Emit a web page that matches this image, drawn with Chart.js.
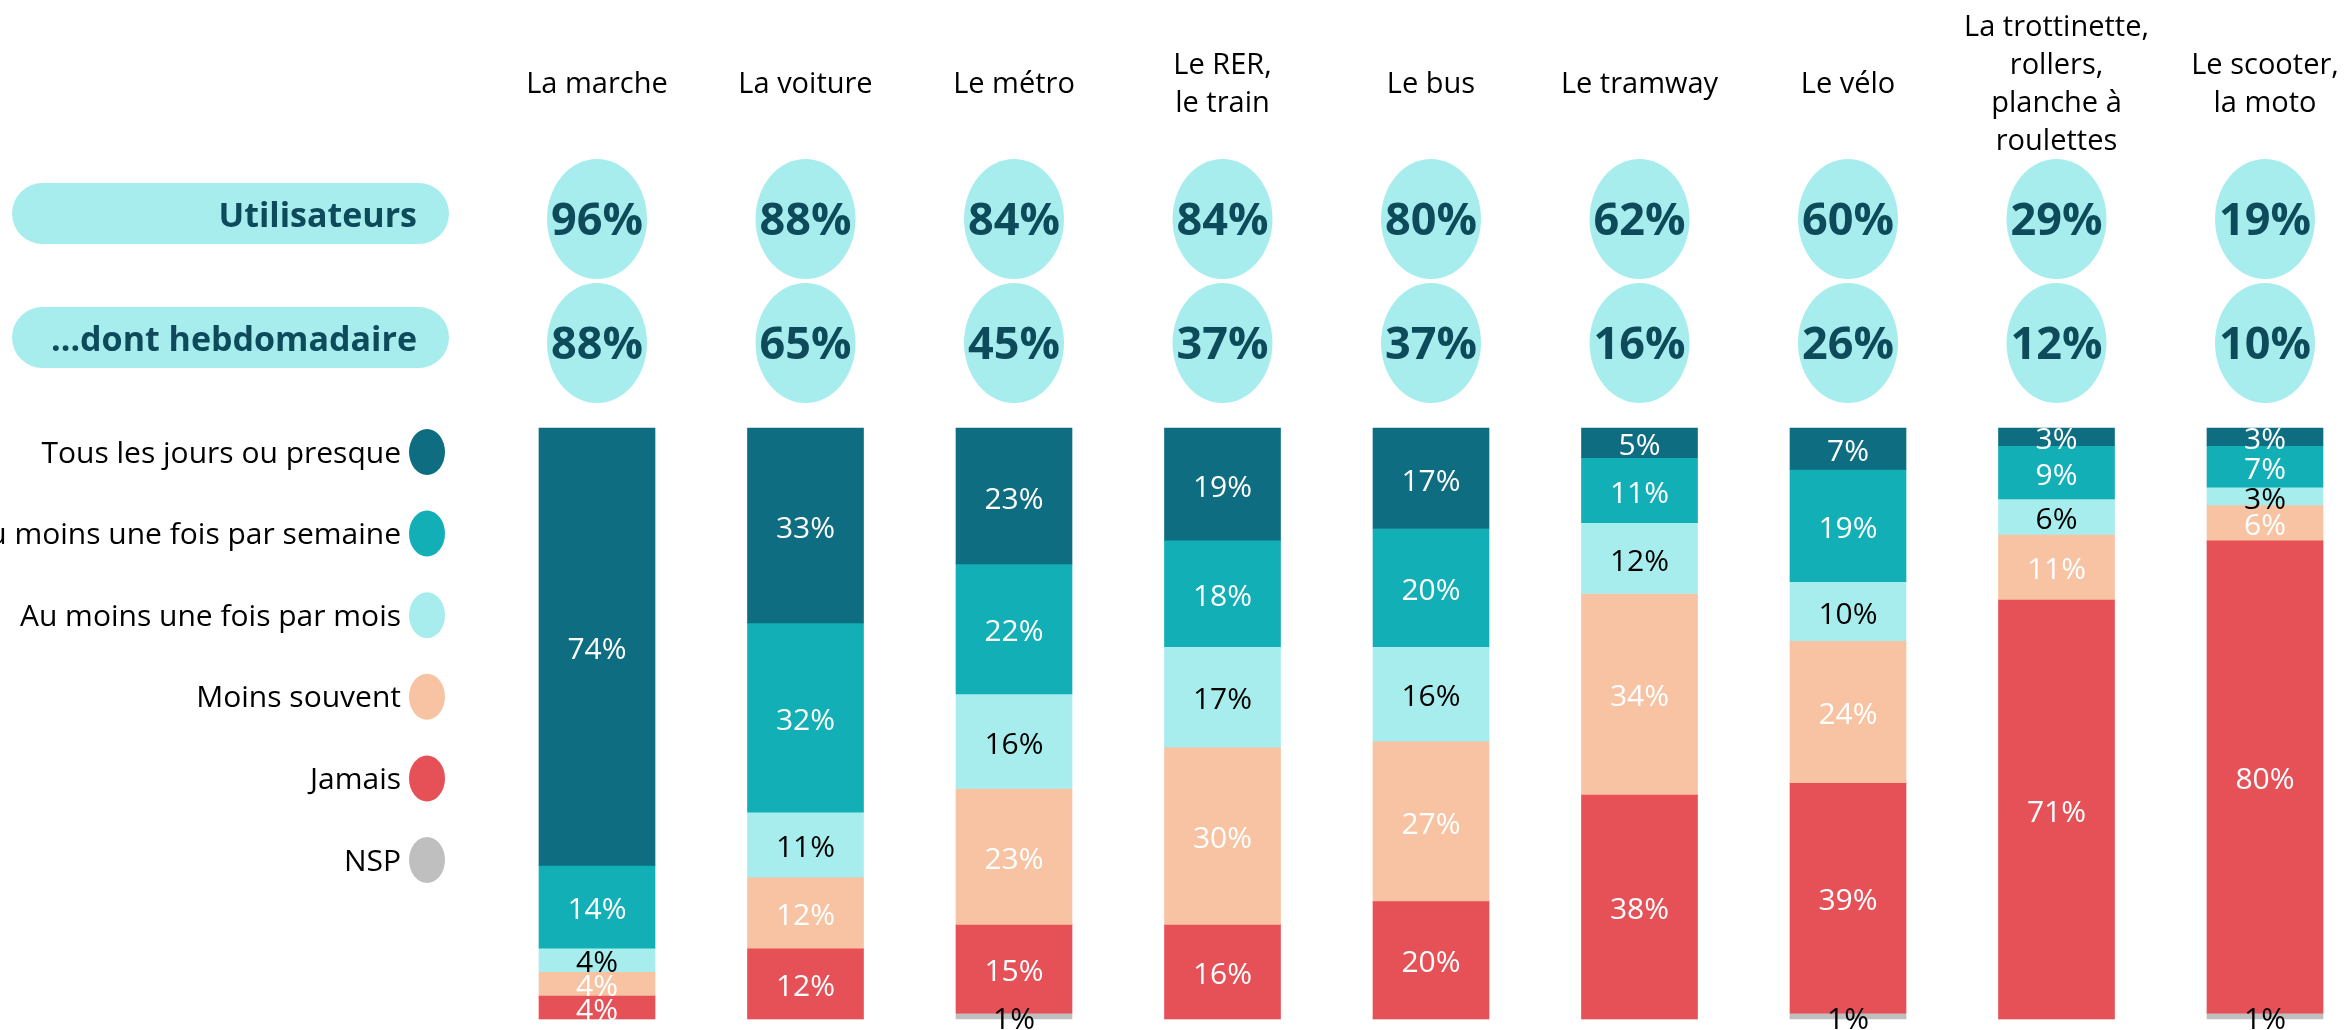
<!DOCTYPE html>
<html>
<head>
<meta charset="utf-8">
<script src="https://cdn.jsdelivr.net/npm/chart.js@4/dist/chart.umd.min.js"></script>
<style>
  html, body { margin: 0; padding: 0; background: #fff; overflow: hidden; }
  #wrap { width: 2349px; height: 1030px; }
</style>
</head>
<body>
<div id="wrap"><canvas id="chart" width="2349" height="1030"></canvas></div>
<script>
// ========== DATA ==========
const categories = [
  ["La marche"],
  ["La voiture"],
  ["Le métro"],
  ["Le RER,", "le train"],
  ["Le bus"],
  ["Le tramway"],
  ["Le vélo"],
  ["La trottinette,", "rollers,", "planche à", "roulettes"],
  ["Le scooter,", "la moto"],
];
const seriesNames = [
  "Tous les jours ou presque",
  "Au moins une fois par semaine",
  "Au moins une fois par mois",
  "Moins souvent",
  "Jamais",
  "NSP",
];
const daily = [74, 33, 23, 19, 17, 5, 7, 3, 3];
const weekly = [14, 32, 22, 18, 20, 11, 19, 9, 7];
const monthly = [4, 11, 16, 17, 16, 12, 10, 6, 3];
const lessOften = [4, 12, 23, 30, 27, 34, 24, 11, 6];
const never = [4, 12, 15, 16, 20, 38, 39, 71, 80];
const dontKnow = [0, 0, 1, 0, 0, 0, 1, 0, 1];

const rowLabels = ["Utilisateurs", "...dont hebdomadaire"];
const users = [96, 88, 84, 84, 80, 62, 60, 29, 19];
const weeklyUsers = [88, 65, 45, 37, 37, 16, 26, 12, 10];

const colors = ["#0e6d80", "#13afb6", "#a8eded", "#f7c3a3", "#e65158", "#bfbfbf"];
const labelColors = ["#fff", "#fff", "#000", "#fff", "#fff", "#000"];

const FONT = "'Open Sans', 'Noto Sans', sans-serif";
const DARK = "#0d4a5a";
const PALE = "#a8eded";

// ========== DRAW HELPERS ==========
function pill(ctx, x, y, w, h) {
  const r = h / 2;
  ctx.beginPath();
  ctx.moveTo(x + r, y);
  ctx.lineTo(x + w - r, y);
  ctx.arc(x + w - r, y + r, r, -Math.PI / 2, Math.PI / 2);
  ctx.lineTo(x + r, y + h);
  ctx.arc(x + r, y + r, r, Math.PI / 2, Math.PI * 1.5);
  ctx.closePath();
  ctx.fill();
}

const overlay = {
  id: "overlay",
  afterDatasetsDraw(chart) {
    const ctx = chart.ctx;
    const xs = chart.scales.x;
    ctx.save();
    ctx.textAlign = "center";
    ctx.textBaseline = "middle";

    // segment labels
    ctx.font = "30px " + FONT;
    chart.data.datasets.forEach((ds, di) => {
      const meta = chart.getDatasetMeta(di);
      meta.data.forEach((bar, i) => {
        const v = ds.data[i];
        if (!v) return;
        ctx.fillStyle = labelColors[di];
        ctx.fillText(v + "%", bar.x, (bar.y + bar.base) / 2 + 4);
      });
    });

    // category headers
    ctx.fillStyle = "#000";
    ctx.font = "29px " + FONT;
    categories.forEach((lines, i) => {
      const cx = xs.getPixelForValue(i);
      const top = 85 - ((lines.length - 1) * 38) / 2;
      lines.forEach((t, k) => ctx.fillText(t, cx, top + k * 38));
    });

    // pills + circles
    const rows = [
      { vals: users, pillY: 183, cy: 219 },
      { vals: weeklyUsers, pillY: 307, cy: 343 },
    ];
    rows.forEach((row, r) => {
      ctx.fillStyle = PALE;
      pill(ctx, 12, row.pillY, 437, 61);
      ctx.fillStyle = DARK;
      ctx.font = "bold 34px " + FONT;
      ctx.textAlign = "right";
      ctx.fillText(rowLabels[r], 417, row.pillY + 34);
      ctx.textAlign = "center";
      ctx.font = "bold 45px " + FONT;
      row.vals.forEach((v, i) => {
        const cx = xs.getPixelForValue(i);
        ctx.fillStyle = PALE;
        ctx.beginPath();
        ctx.ellipse(cx, row.cy, 50, 60, 0, 0, Math.PI * 2);
        ctx.fill();
        ctx.fillStyle = DARK;
        ctx.fillText(v + "%", cx, row.cy + 3);
      });
    });

    // legend
    ctx.font = "30px " + FONT;
    ctx.textAlign = "right";
    seriesNames.forEach((name, i) => {
      const y = 452 + i * 81.6;
      ctx.fillStyle = "#000";
      ctx.fillText(name, 401, y + 2);
      ctx.fillStyle = colors[i];
      ctx.beginPath();
      ctx.ellipse(427, y, 18, 23, 0, 0, Math.PI * 2);
      ctx.fill();
    });
    ctx.restore();
  },
};

// ========== CHART ==========
const seriesData = [daily, weekly, monthly, lessOften, never, dontKnow];

new Chart(document.getElementById("chart"), {
  type: "bar",
  data: {
    labels: categories,
    datasets: seriesNames.map((name, i) => ({
      label: name,
      data: seriesData[i],
      backgroundColor: colors[i],
      borderWidth: 0,
      barThickness: 116,
      clip: false,
    })),
  },
  options: {
    responsive: false,
    animation: false,
    devicePixelRatio: 1,
    layout: { padding: { left: 597, right: 84, top: 428, bottom: 11 } },
    plugins: { legend: { display: false }, tooltip: { enabled: false } },
    scales: {
      x: { stacked: true, offset: false, display: false },
      y: { stacked: true, min: 0, max: 100, reverse: true, display: false },
    },
  },
  plugins: [overlay],
});
</script>
</body>
</html>
